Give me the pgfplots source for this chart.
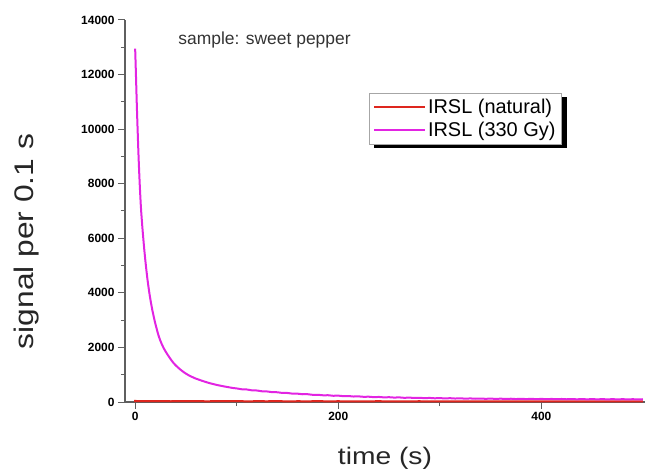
\documentclass[border=0pt]{standalone}
\usepackage{fontspec}
\setmainfont{Liberation Sans}
\newfontfamily\widefont[FakeStretch=1.18]{Liberation Sans}
\usepackage{pgfplots}
\pgfplotsset{compat=1.18}
\usetikzlibrary{backgrounds,calc}

\definecolor{irslred}{RGB}{222,38,30}
\definecolor{irslmag}{RGB}{226,36,226}
\definecolor{axgray}{RGB}{95,95,95}

\begin{document}
\begin{tikzpicture}
\begin{axis}[
    at={(125bp,72bp)}, anchor=south west,
    scale only axis,
    width=520bp, height=382bp,
    xmin=-10, xmax=502,
    ymin=0, ymax=14000,
    clip=false,
    axis lines=left,
    axis line style={-, draw=axgray, line width=1.2bp},
    xtick={0,200,400}, minor xtick={100,300},
    ytick={0,2000,...,14000}, minor y tick num=1,
    scaled y ticks=false,
    tick align=outside,
    major tick length=7bp, minor tick length=4bp,
    tick style={draw=axgray, line width=1bp},
    /pgf/number format/assume math mode=true,
    /pgf/number format/set thousands separator={},
    ticklabel style={font=\bfseries\fontsize{12}{14}\selectfont},
    xlabel={time (s)},
    ylabel={signal per 0.1 s},
    xlabel style={at={(rel axis cs:0.5,-0.147)}, anchor=center, font=\widefont\fontsize{24}{28}\selectfont, text=black!85},
    ylabel style={at={(rel axis cs:-0.19,0.42)}, anchor=center, font=\widefont\fontsize{27}{30}\selectfont, text=black!85},
    legend style={name=leg, at={(0.469,0.809)}, anchor=north west,
        draw=gray!70, fill=white,
        font=\fontsize{20}{22}\selectfont,
        inner xsep=4bp, inner ysep=4bp, row sep=3bp},
    legend cell align=left,
    legend image code/.code={\path (-2bp,0bp) -- (49bp,0bp);\draw[#1] (0bp,0bp) -- (46bp,0bp);},
]
\addplot[irslred, line width=2bp] coordinates {
(0,0) (0,38) (5,32) (10,36) (15,28) (20,33) (25,30) (30,35) (35,27) (40,31)
(50,29) (60,33) (70,26) (80,30) (90,28) (100,32) (110,25) (120,29) (130,27)
(140,31) (150,24) (160,28) (170,26) (180,30) (190,25) (200,28) (210,24)
(220,27) (230,25) (240,29) (250,23) (260,27) (270,25) (280,28) (290,22)
(300,26) (310,24) (320,27) (330,22) (340,26) (350,24) (360,27) (370,21)
(380,25) (390,23) (400,26) (410,22) (420,25) (430,23) (440,26) (450,21)
(460,24) (470,22) (480,25) (490,21) (500,24)
};
\addlegendentry{IRSL (natural)}
\addplot[irslmag, line width=2bp] coordinates {
(0,12950) (0.5,12350) (1,11700) (1.5,11050) (2,10450) (2.5,9900) (3,9350)
(3.5,8850) (4,8400) (4.5,7980) (5,7600) (5.5,7250) (6,6950) (6.5,6700)
(7,6450) (7.5,6220) (8,6000) (9,5580) (10,5200) (11,4850) (12,4530)
(13,4250) (14,3990) (15,3760) (16,3550) (17,3350) (18,3180) (19,3010)
(20,2850) (21,2710) (22,2570) (23,2440) (24,2330) (25,2230) (26,2140)
(28,1980) (30,1850) (32,1730) (34,1620) (36,1515) (38,1420) (40,1340)
(42,1270) (44,1205) (46,1145) (48,1090) (50,1040) (52,995) (54,955)
(56,920) (58,885) (60,855) (63,815) (66,775) (69,740) (72,705) (75,675)
(78,648) (81,620) (84,598) (87,575) (90,555) (93,535) (96,515)
(100,497) (105,466) (110,458) (115,427) (120,421) (125,392) (130,386)
(135,360) (140,357) (145,331) (150,330) (155,306) (160,305) (165,284)
(170,285) (175,262) (180,264) (185,246) (190,248) (195,228) (200,233)
(205,214) (210,219) (215,201) (220,206) (225,190) (230,194) (235,178)
(240,185) (245,169) (250,176) (255,162) (260,169) (265,153) (270,161)
(275,147) (280,154) (285,141) (290,149) (295,136) (300,143) (305,131)
(310,140) (315,127) (320,136) (325,122) (330,131) (335,119) (340,128)
(345,116) (350,125) (355,113) (360,122) (365,110) (370,120) (375,108)
(380,118) (385,106) (390,116) (395,104) (400,114) (405,103) (410,112)
(415,101) (420,111) (425,100) (430,109) (435,98) (440,108) (445,97)
(450,107) (455,96) (460,106) (465,95) (470,105) (475,95) (480,104)
(485,94) (490,103) (495,93) (500,101)
};
\addlegendentry{IRSL (330 Gy)}
\node[anchor=base west, font=\fontsize{17.5}{20}\selectfont, text=black!80]
    at (rel axis cs:0.096,0.9346) {sample: sweet pepper};
\end{axis}
\begin{pgfonlayer}{background}
\fill[black] ($(leg.south west)+(5bp,-4bp)$) rectangle ($(leg.north east)+(5bp,-4bp)$);
\end{pgfonlayer}
\pgfresetboundingbox
\path (0bp,0bp) rectangle (646bp,474bp);
\end{tikzpicture}
\end{document}
